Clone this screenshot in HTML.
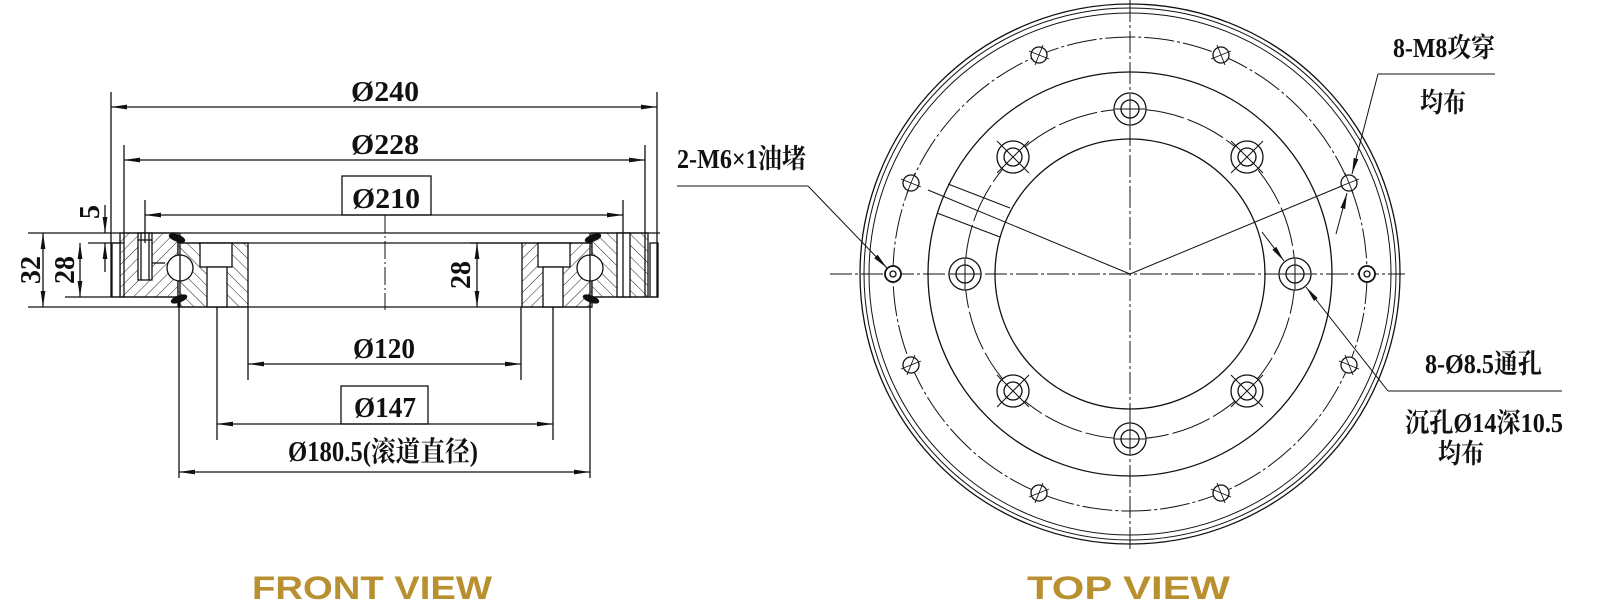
<!DOCTYPE html>
<html><head><meta charset="utf-8"><style>
html,body{margin:0;padding:0;background:#fff;width:1600px;height:600px;overflow:hidden}
svg{display:block}
.t{font-family:"Liberation Serif","Noto Serif CJK SC",serif;fill:#111;font-weight:bold}
.ttl{font-family:"Liberation Sans",sans-serif;font-weight:bold;fill:#b8902f}
</style></head><body>
<svg width="1600" height="600" viewBox="0 0 1600 600" xmlns="http://www.w3.org/2000/svg">
<defs>
<marker id="a" viewBox="0 0 16 6" refX="16" refY="3" markerWidth="16" markerHeight="6" markerUnits="userSpaceOnUse" orient="auto-start-reverse"><path d="M0,0.6 L16,3 L0,5.4 Z" fill="#111"/></marker>
<pattern id="h1" width="8" height="8" patternUnits="userSpaceOnUse" patternTransform="rotate(45)"><rect width="8" height="8" fill="#fff"/><line x1="0" y1="0" x2="0" y2="8" stroke="#222" stroke-width="1"/></pattern>
<pattern id="h2" width="8" height="8" patternUnits="userSpaceOnUse" patternTransform="rotate(-45)"><rect width="8" height="8" fill="#fff"/><line x1="0" y1="0" x2="0" y2="8" stroke="#222" stroke-width="1"/></pattern>
</defs>
<g stroke="#111" stroke-width="1.3" fill="none">
<rect x="120" y="233" width="58" height="64" fill="url(#h1)"/>
<rect x="178" y="243" width="70" height="64" fill="url(#h2)"/>
<rect x="522" y="243" width="70" height="64" fill="url(#h1)"/>
<rect x="592" y="233" width="56" height="64" fill="url(#h2)"/>
<rect x="112" y="243" width="8" height="54" fill="#fff"/>
<rect x="650" y="243" width="8" height="54" fill="#fff"/>
<rect x="200" y="243" width="32" height="24" fill="#fff"/>
<rect x="207" y="267" width="20" height="40" fill="#fff"/>
<rect x="538" y="243" width="32" height="24" fill="#fff"/>
<rect x="543" y="267" width="20" height="40" fill="#fff"/>
<rect x="617" y="233" width="13" height="64" fill="#fff"/>
<rect x="138" y="233" width="14" height="47" fill="#fff"/>
<line x1="141" y1="233" x2="141" y2="280"/><line x1="149" y1="233" x2="149" y2="280"/>
<line x1="138" y1="240" x2="152" y2="240"/>
<line x1="152" y1="263" x2="165" y2="263"/>
<circle cx="180" cy="268" r="13" fill="#fff"/>
<circle cx="590" cy="268" r="13" fill="#fff"/>
<line x1="180" y1="233" x2="180" y2="307"/><line x1="590" y1="233" x2="590" y2="307"/>
<ellipse cx="177" cy="238" rx="8" ry="3" fill="#111" transform="rotate(20 177 238)"/>
<ellipse cx="179" cy="299" rx="8" ry="3" fill="#111" transform="rotate(-20 179 299)"/>
<ellipse cx="593" cy="238" rx="8" ry="3" fill="#111" transform="rotate(-20 593 238)"/>
<ellipse cx="591" cy="299" rx="8" ry="3" fill="#111" transform="rotate(20 591 299)"/>
<line x1="28" y1="233" x2="660" y2="233"/>
<line x1="88" y1="243" x2="124" y2="243"/>
<line x1="178" y1="243" x2="592" y2="243"/>
<line x1="65" y1="297" x2="178" y2="297"/>
<line x1="590" y1="297" x2="658" y2="297"/>
<line x1="28" y1="307" x2="592" y2="307"/>
<line x1="111" y1="92" x2="111" y2="297"/>
<line x1="124" y1="145" x2="124" y2="297"/>
<line x1="145" y1="200" x2="145" y2="243"/>
<line x1="657" y1="92" x2="657" y2="297"/>
<line x1="645" y1="145" x2="645" y2="297"/>
<line x1="623" y1="200" x2="623" y2="297"/>
<line x1="179" y1="297" x2="179" y2="478"/>
<line x1="590" y1="297" x2="590" y2="478"/>
<line x1="217" y1="307" x2="217" y2="440"/>
<line x1="553" y1="307" x2="553" y2="440"/>
<line x1="248" y1="307" x2="248" y2="380"/>
<line x1="521" y1="307" x2="521" y2="380"/>
<line x1="385" y1="215" x2="385" y2="310" stroke-dasharray="18 3 2 3" stroke-width="1"/>
<line x1="111" y1="107" x2="657" y2="107" marker-start="url(#a)" marker-end="url(#a)"/>
<line x1="124" y1="160" x2="645" y2="160" marker-start="url(#a)" marker-end="url(#a)"/>
<line x1="145" y1="215" x2="623" y2="215" marker-start="url(#a)" marker-end="url(#a)"/>
<rect x="342" y="176" width="89" height="39"/>
<line x1="248" y1="364" x2="521" y2="364" marker-start="url(#a)" marker-end="url(#a)"/>
<rect x="341" y="386" width="87" height="38"/>
<line x1="217" y1="424" x2="553" y2="424" marker-start="url(#a)" marker-end="url(#a)"/>
<line x1="179" y1="472" x2="590" y2="472" marker-start="url(#a)" marker-end="url(#a)"/>
<line x1="43" y1="233" x2="43" y2="307" marker-start="url(#a)" marker-end="url(#a)"/>
<line x1="80" y1="243" x2="80" y2="297" marker-start="url(#a)" marker-end="url(#a)"/>
<line x1="477" y1="243" x2="477" y2="307" marker-start="url(#a)" marker-end="url(#a)"/>
<line x1="470" y1="243" x2="522" y2="243"/>
<line x1="105" y1="205" x2="105" y2="233" marker-end="url(#a)"/>
<line x1="105" y1="272" x2="105" y2="243" marker-end="url(#a)"/>

<line x1="830" y1="274" x2="1405" y2="274" stroke-dasharray="22 3 3 3" stroke-width="1"/>
<line x1="1130" y1="0" x2="1130" y2="552" stroke-dasharray="22 3 3 3" stroke-width="1"/>
<circle cx="1130" cy="274" r="270"/>
<circle cx="1130" cy="274" r="266" stroke-width="1"/>
<circle cx="1130" cy="274" r="261" stroke-width="1"/>
<circle cx="1130" cy="274" r="237" stroke-width="1" stroke-dasharray="30 3 3 3"/>
<circle cx="1130" cy="274" r="202"/>
<circle cx="1130" cy="274" r="165" stroke-width="1" stroke-dasharray="40 4"/>
<circle cx="1130" cy="274" r="135"/>
<line x1="1130" y1="274" x2="928" y2="190" stroke-width="1"/>
<line x1="1130" y1="274" x2="1349" y2="183" stroke-width="1"/>
<line x1="948" y1="184" x2="1010" y2="208" stroke-width="1"/>
<line x1="937" y1="213" x2="1000" y2="237" stroke-width="1"/>
<g fill="#fff">
<circle cx="1295" cy="274" r="16"/><circle cx="1295" cy="274" r="9"/>
<circle cx="965" cy="274" r="16"/><circle cx="965" cy="274" r="9"/>
<circle cx="1130" cy="109" r="16"/><circle cx="1130" cy="109" r="9"/>
<circle cx="1130" cy="439" r="16"/><circle cx="1130" cy="439" r="9"/>
<circle cx="1247" cy="157" r="16"/><circle cx="1247" cy="157" r="9"/>
<circle cx="1013" cy="157" r="16"/><circle cx="1013" cy="157" r="9"/>
<circle cx="1247" cy="391" r="16"/><circle cx="1247" cy="391" r="9"/>
<circle cx="1013" cy="391" r="16"/><circle cx="1013" cy="391" r="9"/>
</g>
<g stroke-width="1">
<path d="M1231,141 L1263,173 M1263,141 L1231,173"/>
<path d="M997,141 L1029,173 M1029,141 L997,173"/>
<path d="M1231,375 L1263,407 M1263,375 L1231,407"/>
<path d="M997,375 L1029,407 M1029,375 L997,407"/>
<path d="M1280,274 L1310,274 M1295,259 L1295,289 M950,274 L980,274 M965,259 L965,289 M1115,109 L1145,109 M1130,94 L1130,124 M1115,439 L1145,439 M1130,424 L1130,454"/>
</g>
<g fill="#fff">
<circle cx="1349" cy="183" r="8"/><circle cx="1349" cy="365" r="8"/>
<circle cx="1221" cy="55" r="8"/><circle cx="1221" cy="493" r="8"/>
<circle cx="1039" cy="55" r="8"/><circle cx="1039" cy="493" r="8"/>
<circle cx="911" cy="183" r="8"/><circle cx="911" cy="365" r="8"/>
<circle cx="1367" cy="274" r="8" stroke-width="1.8"/><circle cx="1367" cy="274" r="3"/>
<circle cx="893" cy="274" r="8" stroke-width="1.8"/><circle cx="893" cy="274" r="3"/>
</g>
<g stroke-width="0.9">
<path d="M1345,173 L1353,193 M1339,187 L1359,179"/>
<path d="M1345,355 L1353,375 M1339,361 L1359,369"/>
<path d="M1217,45 L1225,65 M1211,59 L1231,51"/>
<path d="M1217,483 L1225,503 M1211,489 L1231,497"/>
<path d="M1043,45 L1035,65 M1029,51 L1049,59"/>
<path d="M1043,483 L1035,503 M1029,497 L1049,489"/>
<path d="M915,173 L907,193 M901,179 L921,187"/>
<path d="M915,355 L907,375 M901,369 L921,361"/>
</g>
<line x1="677" y1="186" x2="808" y2="186" stroke-width="1"/>
<line x1="808" y1="186" x2="887" y2="268" stroke-width="1" marker-end="url(#a)"/>
<line x1="1378" y1="74" x2="1495" y2="74" stroke-width="1"/>
<line x1="1378" y1="74" x2="1352" y2="174" stroke-width="1" marker-end="url(#a)"/>
<line x1="1336" y1="234" x2="1347" y2="193" stroke-width="1" marker-end="url(#a)"/>
<line x1="1388" y1="391" x2="1562" y2="391" stroke-width="1"/>
<line x1="1388" y1="391" x2="1306" y2="287" stroke-width="1" marker-end="url(#a)"/>
<line x1="1262" y1="232" x2="1284" y2="261" stroke-width="1" marker-end="url(#a)"/>
</g>
<g class="t" font-size="28" text-anchor="middle">
<text x="385" y="101" textLength="68" lengthAdjust="spacingAndGlyphs">Ø240</text>
<text x="385" y="154" textLength="68" lengthAdjust="spacingAndGlyphs">Ø228</text>
<text x="386" y="208" textLength="68" lengthAdjust="spacingAndGlyphs">Ø210</text>
<text x="384" y="358" textLength="62" lengthAdjust="spacingAndGlyphs">Ø120</text>
<text x="385" y="417" textLength="62" lengthAdjust="spacingAndGlyphs">Ø147</text>
<text x="383" y="461" textLength="190" lengthAdjust="spacingAndGlyphs">Ø180.5(滚道直径)</text>
<text transform="translate(40,270) rotate(-90)" textLength="28" lengthAdjust="spacingAndGlyphs">32</text>
<text transform="translate(74,270) rotate(-90)" textLength="28" lengthAdjust="spacingAndGlyphs">28</text>
<text transform="translate(470,275) rotate(-90)" textLength="28" lengthAdjust="spacingAndGlyphs">28</text>
<text transform="translate(99,212) rotate(-90)">5</text>
</g>
<g class="t" font-size="27">
<text x="677" y="168" textLength="129" lengthAdjust="spacingAndGlyphs">2-M6×1油堵</text>
<text x="1393" y="57" textLength="102" lengthAdjust="spacingAndGlyphs">8-M8攻穿</text>
<text x="1420" y="112" textLength="46" lengthAdjust="spacingAndGlyphs">均布</text>
<text x="1425" y="373" textLength="117" lengthAdjust="spacingAndGlyphs">8-Ø8.5通孔</text>
<text x="1405" y="432" textLength="158" lengthAdjust="spacingAndGlyphs">沉孔Ø14深10.5</text>
<text x="1438" y="463" textLength="46" lengthAdjust="spacingAndGlyphs">均布</text>
</g>
<text class="ttl" x="252" y="599" font-size="32" textLength="240" lengthAdjust="spacingAndGlyphs">FRONT VIEW</text>
<text class="ttl" x="1027" y="599" font-size="32" textLength="203" lengthAdjust="spacingAndGlyphs">TOP VIEW</text>
</svg>
</body></html>
